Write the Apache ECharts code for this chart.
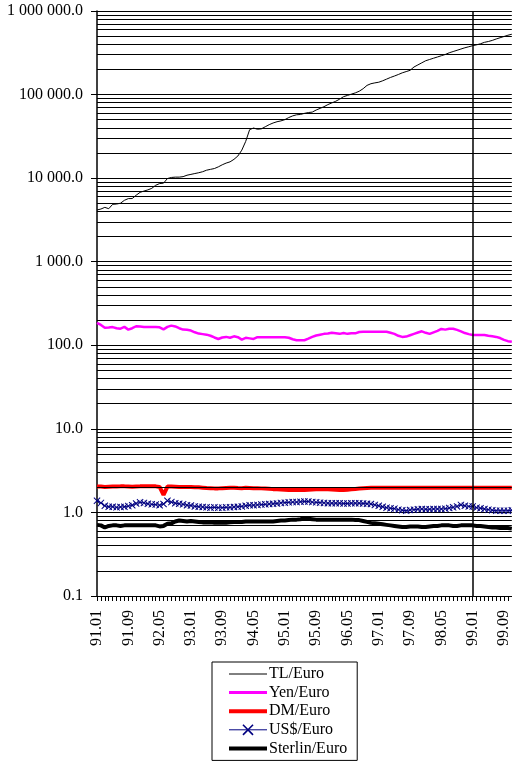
<!DOCTYPE html>
<html>
<head>
<meta charset="utf-8">
<script src="https://cdn.jsdelivr.net/npm/echarts@6/dist/echarts.min.js"></script>
<style>html,body{margin:0;padding:0;background:#fff;}#c{width:512px;height:767px;}</style>
</head>
<body>
<div id="c"></div>
<script>
const months = [
'91.01','91.02','91.03','91.04','91.05','91.06','91.07','91.08','91.09','91.10','91.11','91.12',
'92.01','92.02','92.03','92.04','92.05','92.06','92.07','92.08','92.09','92.10','92.11','92.12',
'93.01','93.02','93.03','93.04','93.05','93.06','93.07','93.08','93.09','93.10','93.11','93.12',
'94.01','94.02','94.03','94.04','94.05','94.06','94.07','94.08','94.09','94.10','94.11','94.12',
'95.01','95.02','95.03','95.04','95.05','95.06','95.07','95.08','95.09','95.10','95.11','95.12',
'96.01','96.02','96.03','96.04','96.05','96.06','96.07','96.08','96.09','96.10','96.11','96.12',
'97.01','97.02','97.03','97.04','97.05','97.06','97.07','97.08','97.09','97.10','97.11','97.12',
'98.01','98.02','98.03','98.04','98.05','98.06','98.07','98.08','98.09','98.10','98.11','98.12',
'99.01','99.02','99.03','99.04','99.05','99.06','99.07','99.08','99.09','99.10','99.11'
];
const seriesNames = ['TL/Euro','Yen/Euro','DM/Euro','US$/Euro','Sterlin/Euro'];
const tlEuro = [
4160,4270,4470,4310,4860,4900,5010,5430,5690,5700,6240,6760,
7000,7240,7550,8220,8610,8710,9890,10190,10280,10280,10420,10840,
11090,11350,11610,11940,12450,12740,13030,13650,14450,15140,15670,16790,
18410,21630,27540,38020,39810,38460,38900,41210,43650,45710,47320,48420,
50120,53090,55590,57280,57810,59570,60950,61660,65310,68390,71610,75860,
79430,83180,88100,94410,97720,101200,104700,109600,117500,128800,134900,138000,
140600,146200,153100,160300,166700,173800,182000,188400,195000,213800,226500,239900,
254100,263000,272300,281800,291700,302000,316200,327300,338800,350800,363100,373300,
384600,393600,405500,421700,431500,444600,462400,478600,495500,512900,527200
];
const yenEuro = [
185,175,162,163,165,160,158,166,154,160,169,168,
166,166,166,165,164,155,166,172,168,160,154,153,
150,143,138,136,134,130,124,119,124,126,123,128,
125,117,123,121,119,125,125,125,125,125,125,125,
125,123,118,115,115,115,120,126,131,134,137,138,
141,139,137,140,137,139,139,144,145,145,145,145,
145,145,145,141,137,130,126,127,132,137,142,147,
141,137,143,149,157,154,158,158,153,147,140,136,
133,133,133,133,130,128,126,122,116,112,110
];
const dmEuro = [
2.04,2.04,2.02,2.03,2.04,2.04,2.05,2.05,2.04,2.03,2.04,2.05,
2.05,2.05,2.05,2.05,2.02,1.62,2.04,2.04,2.03,2.02,2.02,2.01,
2.01,2.00,2.00,1.98,1.96,1.95,1.94,1.94,1.95,1.96,1.97,1.98,
1.96,1.95,1.97,1.96,1.95,1.95,1.94,1.93,1.92,1.90,1.89,1.88,
1.87,1.86,1.86,1.85,1.85,1.86,1.87,1.88,1.89,1.90,1.90,1.89,
1.88,1.87,1.86,1.86,1.87,1.89,1.91,1.93,1.95,1.96,1.97,1.98,
1.98,1.98,1.98,1.98,1.98,1.98,1.98,1.98,1.98,1.98,1.98,1.98,
1.98,1.98,1.98,1.98,1.98,1.98,1.98,1.98,1.98,1.98,1.98,1.98,
1.98,1.98,1.98,1.98,1.98,1.98,1.98,1.98,1.98,1.98,1.98
];
const usdEuro = [
1.38,1.30,1.20,1.17,1.17,1.15,1.16,1.17,1.19,1.22,1.28,1.32,
1.30,1.27,1.25,1.24,1.22,1.26,1.38,1.33,1.29,1.27,1.25,1.22,
1.21,1.18,1.17,1.16,1.15,1.14,1.15,1.14,1.14,1.15,1.15,1.16,
1.17,1.18,1.20,1.22,1.22,1.23,1.24,1.25,1.26,1.27,1.28,1.30,
1.31,1.32,1.33,1.33,1.34,1.35,1.35,1.33,1.32,1.31,1.30,1.29,
1.29,1.29,1.29,1.28,1.28,1.29,1.29,1.29,1.28,1.27,1.26,1.23,
1.20,1.17,1.14,1.12,1.11,1.08,1.06,1.05,1.07,1.08,1.09,1.10,
1.09,1.09,1.10,1.10,1.10,1.11,1.13,1.15,1.18,1.23,1.20,1.18,
1.18,1.14,1.12,1.10,1.08,1.06,1.05,1.05,1.05,1.05,1.06
];
const sterlinEuro = [
0.71,0.70,0.66,0.69,0.70,0.70,0.69,0.70,0.70,0.70,0.70,0.70,
0.70,0.70,0.70,0.70,0.68,0.69,0.73,0.74,0.78,0.80,0.79,0.78,
0.79,0.78,0.77,0.76,0.76,0.76,0.75,0.75,0.75,0.75,0.76,0.77,
0.77,0.77,0.78,0.78,0.78,0.78,0.78,0.78,0.78,0.78,0.79,0.80,
0.80,0.81,0.82,0.82,0.83,0.85,0.84,0.83,0.82,0.82,0.82,0.82,
0.82,0.82,0.82,0.82,0.82,0.82,0.81,0.81,0.79,0.77,0.75,0.74,
0.73,0.72,0.71,0.70,0.69,0.68,0.67,0.67,0.68,0.68,0.68,0.67,
0.67,0.68,0.69,0.69,0.70,0.70,0.70,0.69,0.69,0.70,0.70,0.70,
0.70,0.69,0.69,0.68,0.67,0.66,0.66,0.65,0.65,0.65,0.64
];
const minorGridValues = [];
[0.1,1,10,100,1000,10000,100000].forEach(function(d){
  for (let k = 2; k <= 9; k++) minorGridValues.push(d * k);
});
const markerMonth = '99.01';

const FONT = 'Liberation Serif';
const crossPath = 'path://M0,1L1,0L5,4L9,0L10,1L6,5L10,9L9,10L5,6L1,10L0,9L4,5Z';

function fmt(v){
  const s = Number(v).toFixed(1);
  const parts = s.split('.');
  const intPart = parts[0].replace(/\B(?=(\d{3})+(?!\d))/g, ' ');
  return intPart + '.' + parts[1];
}

const legendWidths = [1, 3, 4, 1, 4];
const legendData = seriesNames.map(function(n, i){
  if (n === 'US$/Euro') return {name: n, lineStyle: {width: legendWidths[i]}};
  return {name: n, itemStyle: {opacity: 0, borderWidth: 0}, lineStyle: {width: legendWidths[i]}};
});

const chart = echarts.init(document.getElementById('c'), null, {renderer:'canvas'});
chart.setOption({
  animation: false,
  backgroundColor: '#ffffff',
  textStyle: {fontFamily: FONT, color: '#000'},
  grid: {left: 97, right: 0, top: 11, bottom: 171, containLabel: false},
  legend: {
    data: legendData,
    orient: 'vertical',
    left: 212,
    top: 662,
    padding: [4, 10, 4, 15],
    itemGap: 2.6,
    itemWidth: 38,
    itemHeight: 14,
    borderColor: '#000',
    borderWidth: 1,
    textStyle: {fontFamily: FONT, fontSize: 16, color: '#000', padding: [0,0,0,-3]},
    selectedMode: false
  },
  xAxis: {
    type: 'category',
    data: months,
    boundaryGap: false,
    axisLine: {lineStyle: {color: '#000', width: 1}},
    axisTick: {interval: 0, length: 5, lineStyle: {color: '#000'}},
    axisLabel: {interval: 7, rotate: 90, margin: 14, fontFamily: FONT, fontSize: 16, color: '#000'},
    splitLine: {show: false}
  },
  yAxis: {
    type: 'log',
    logBase: 10,
    min: 0.1,
    max: 1000000,
    axisLine: {show: true, lineStyle: {color: '#000', width: 1.5}},
    axisTick: {show: true, length: 6, lineStyle: {color: '#000'}},
    axisLabel: {margin: 14, fontFamily: FONT, fontSize: 16, color: '#000', formatter: fmt},
    splitLine: {show: true, lineStyle: {color: '#000', width: 1}}
  },
  series: [
    {
      name: 'grid', type: 'line', data: [], silent: true, z: 1,
      markLine: {
        silent: true, symbol: 'none', animation: false,
        label: {show: false},
        lineStyle: {color: '#000', width: 1, type: 'solid'},
        data: minorGridValues.map(function(v){ return {yAxis: v}; })
          .concat([{xAxis: markerMonth, lineStyle: {color: '#000', width: 1.5, type: 'solid'}}])
      }
    },
    {name: seriesNames[0], type: 'line', data: tlEuro, symbol: 'none', z: 3,
     lineStyle: {color: '#000', width: 1}, itemStyle: {color: '#000'}},
    {name: seriesNames[1], type: 'line', data: yenEuro, symbol: 'none', z: 3,
     lineStyle: {color: '#FF00FF', width: 2.5}, itemStyle: {color: '#FF00FF'}},
    {name: seriesNames[2], type: 'line', data: dmEuro, symbol: 'none', z: 3,
     lineStyle: {color: '#FF0000', width: 4}, itemStyle: {color: '#FF0000'}},
    {name: seriesNames[3], type: 'line', data: usdEuro, symbol: crossPath, symbolSize: 7, showAllSymbol: true, z: 3,
     lineStyle: {color: '#000080', width: 1}, itemStyle: {color: '#000080'}},
    {name: seriesNames[4], type: 'line', data: sterlinEuro, symbol: 'none', z: 3,
     lineStyle: {color: '#000', width: 4}, itemStyle: {color: '#000'}}
  ]
});
</script>
</body>
</html>
